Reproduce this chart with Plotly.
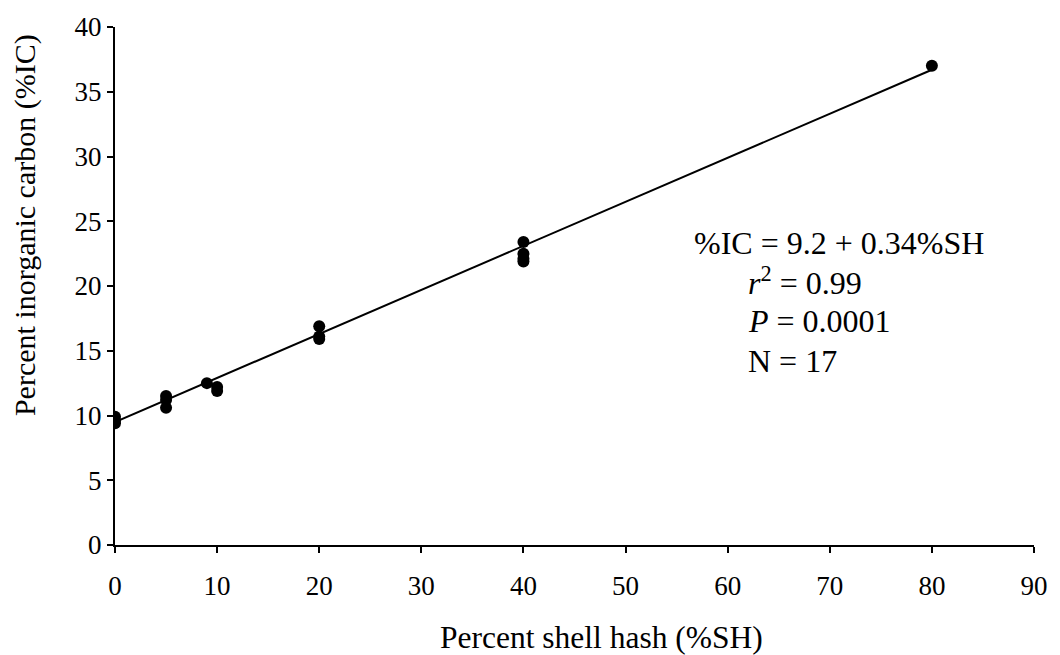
import plotly.graph_objects as go

# data
shell_hash = [0, 0, 0, 5, 5, 5, 9, 10, 10, 20, 20, 20, 40, 40, 40, 40, 80]
inorg_carbon = [9.9, 9.6, 9.4, 11.5, 11.2, 10.6, 12.5, 12.2, 11.9, 16.9, 16.1, 15.9, 23.4, 22.5, 22.1, 21.9, 37.0]
fit_intercept = 9.5
fit_slope = 0.34
fit_x = [0, 80]
fit_y = [fit_intercept + fit_slope * v for v in fit_x]

x_ticks = [0, 10, 20, 30, 40, 50, 60, 70, 80, 90]
y_ticks = [0, 5, 10, 15, 20, 25, 30, 35, 40]

font = "Liberation Serif"

fig = go.Figure()
fig.add_trace(go.Scatter(x=fit_x, y=fit_y, mode="lines",
                         line=dict(color="black", width=2), showlegend=False))
fig.add_trace(go.Scatter(x=shell_hash, y=inorg_carbon, mode="markers",
                         marker=dict(color="black", size=12), showlegend=False))

fig.update_layout(
    width=1060, height=655,
    margin=dict(l=115, r=18, t=20, b=110),
    paper_bgcolor="white", plot_bgcolor="white",
    font=dict(family=font, color="black", size=27),
    xaxis=dict(range=[0, 90], tickvals=x_ticks, showgrid=False, zeroline=False,
               showline=True, linecolor="black", linewidth=2,
               ticks="outside", ticklen=6, tickwidth=2, tickcolor="black",
               ticklabelstandoff=10,
               tickfont=dict(size=27, family=font)),
    yaxis=dict(range=[0, 40], tickvals=y_ticks, showgrid=False, zeroline=False,
               showline=True, linecolor="black", linewidth=2,
               ticks="outside", ticklen=6, tickwidth=2, tickcolor="black",
               tickfont=dict(size=27, family=font)),
)

# axis titles, placed by pixel position as in the reference
plot_l, plot_r, plot_t, plot_b = 115, 1060 - 18, 20, 655 - 110
def px_to_paper(px, py):
    return (px - plot_l) / (plot_r - plot_l), (plot_b - py) / (plot_b - plot_t)

xt_x, xt_y = px_to_paper(606, 639)
fig.add_annotation(x=xt_x, y=xt_y, xref="paper", yref="paper", text="Percent shell hash (%SH)",
                   showarrow=False, font=dict(size=31.5, family=font), xanchor="center", yanchor="middle")
yt_x, yt_y = px_to_paper(25, 221)
fig.add_annotation(x=yt_x, y=yt_y, xref="paper", yref="paper", text="Percent inorganic carbon (%IC)",
                   showarrow=False, font=dict(size=30, family=font), textangle=-90,
                   xanchor="center", yanchor="middle")

ann_font = dict(size=32, family=font)
fig.add_annotation(x=56.5, y=23.3, xref="x", yref="y", xanchor="left", yanchor="middle",
                   text="%IC = 9.2 + 0.34%SH", showarrow=False, font=ann_font)
fig.add_annotation(x=61.8, y=20.4, xref="x", yref="y", xanchor="left", yanchor="middle",
                   text="<i>r</i><sup>2</sup> = 0.99", showarrow=False, font=ann_font)
fig.add_annotation(x=61.8, y=17.3, xref="x", yref="y", xanchor="left", yanchor="middle",
                   text="<i>P</i> = 0.0001", showarrow=False, font=ann_font)
fig.add_annotation(x=61.8, y=14.2, xref="x", yref="y", xanchor="left", yanchor="middle",
                   text="N = 17", showarrow=False, font=ann_font)

fig.write_html("out.html")
